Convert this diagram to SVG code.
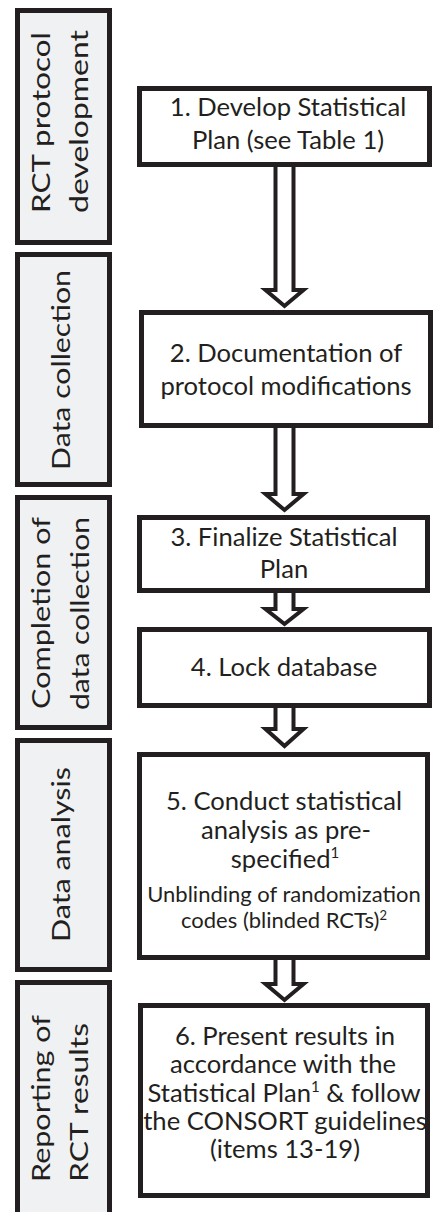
<svg xmlns="http://www.w3.org/2000/svg" width="433" height="1212" viewBox="0 0 433 1212">
  <style>
    .phase { fill: #f0f1f2; stroke: #231f20; stroke-width: 5; }
    .step { fill: #ffffff; stroke: #231f20; stroke-width: 5; }
    .arrow { fill: #ffffff; stroke: #231f20; stroke-width: 4; stroke-linejoin: miter; }
    text { font-family: Lato, "Open Sans", sans-serif; fill: #231f20; }
    .label { font-size: 25px; text-anchor: start; }
    .big { font-size: 25.6px; text-anchor: middle; }
    .small { font-size: 22px; text-anchor: middle; }
    .sup { font-size: 15px; }
    .sup-s { font-size: 13px; }
  </style>

  <!-- phase labels on the left, rotated to read bottom-up -->
  <g id="phase-protocol">
    <rect class="phase" x="17.5" y="10.5" width="92" height="232"/>
    <g transform="translate(50,213) rotate(-90)">
      <text class="label" x="0" y="0" textLength="181" lengthAdjust="spacingAndGlyphs">RCT protocol</text>
      <text class="label" x="0" y="38" textLength="183" lengthAdjust="spacingAndGlyphs">development</text>
    </g>
  </g>
  <g id="phase-collection">
    <rect class="phase" x="17.5" y="254.5" width="92" height="230"/>
    <text class="label" transform="translate(70,470) rotate(-90)" textLength="200" lengthAdjust="spacingAndGlyphs">Data collection</text>
  </g>
  <g id="phase-completion">
    <rect class="phase" x="17.5" y="497.5" width="92" height="230"/>
    <g transform="translate(50,708) rotate(-90)">
      <text class="label" x="-1" y="0" textLength="192" lengthAdjust="spacingAndGlyphs">Completion of</text>
      <text class="label" x="-2" y="39" textLength="193" lengthAdjust="spacingAndGlyphs">data collection</text>
    </g>
  </g>
  <g id="phase-analysis">
    <rect class="phase" x="17.5" y="740.5" width="92" height="229"/>
    <text class="label" transform="translate(70,942) rotate(-90)" textLength="175" lengthAdjust="spacingAndGlyphs">Data analysis</text>
  </g>
  <g id="phase-reporting">
    <rect class="phase" x="17.5" y="982.5" width="92" height="240"/>
    <g transform="translate(50,1182) rotate(-90)">
      <text class="label" x="0" y="0" textLength="167" lengthAdjust="spacingAndGlyphs">Reporting of</text>
      <text class="label" x="0" y="38" textLength="159" lengthAdjust="spacingAndGlyphs">RCT results</text>
    </g>
  </g>

  <!-- block arrows between steps -->
  <g id="connectors">
    <path class="arrow" d="M275.5,167 V290 H265.5 L284.5,306 L303.5,290 H293.5 V167"/>
    <path class="arrow" d="M275.5,428 V494 H265.5 L284.5,510 L303.5,494 H293.5 V428"/>
    <path class="arrow" d="M275.5,593 V609 H265.5 L284.5,624 L303.5,609 H293.5 V593"/>
    <path class="arrow" d="M275.5,708 V729 H265.5 L284.5,746 L303.5,729 H293.5 V708"/>
    <path class="arrow" d="M275.5,960 V984 H265.5 L284.5,1000 L303.5,984 H293.5 V960"/>
  </g>

  <!-- workflow steps -->
  <g id="step1">
    <rect class="step" x="139.5" y="88.5" width="290" height="76"/>
    <text class="big" x="288" y="116">1. Develop Statistical</text>
    <text class="big" x="288" y="149">Plan (see Table 1)</text>
  </g>
  <g id="step2">
    <rect class="step" x="141.5" y="312.5" width="289" height="113"/>
    <text class="big" x="286" y="362">2. Documentation of</text>
    <text class="big" x="286" y="395">protocol modifications</text>
  </g>
  <g id="step3">
    <rect class="step" x="139.5" y="517.5" width="288" height="73"/>
    <text class="big" x="284" y="546">3. Finalize Statistical</text>
    <text class="big" x="284" y="578">Plan</text>
  </g>
  <g id="step4">
    <rect class="step" x="139.5" y="629.5" width="290" height="76"/>
    <text class="big" x="284" y="676">4. Lock database</text>
  </g>
  <g id="step5">
    <rect class="step" x="139.5" y="754.5" width="288" height="203"/>
    <text class="big" x="284" y="810">5. Conduct statistical</text>
    <text class="big" x="286" y="839">analysis as pre-</text>
    <text class="big" x="285" y="868">specified<tspan class="sup" dy="-10">1</tspan></text>
    <text class="small" x="284" y="902">Unblinding of randomization</text>
    <text class="small" x="284" y="928">codes (blinded RCTs)<tspan class="sup-s" dy="-8">2</tspan></text>
  </g>
  <g id="step6">
    <rect class="step" x="140.5" y="1005.5" width="287" height="190"/>
    <text class="big" x="285" y="1045">6. Present results in</text>
    <text class="big" x="283" y="1073">accordance with the</text>
    <text class="big" x="284" y="1102">Statistical Plan<tspan class="sup" dy="-10">1</tspan><tspan dy="10"> &amp; follow</tspan></text>
    <text class="big" x="285" y="1130">the CONSORT guidelines</text>
    <text class="big" x="285" y="1158">(items 13-19)</text>
  </g>
</svg>
